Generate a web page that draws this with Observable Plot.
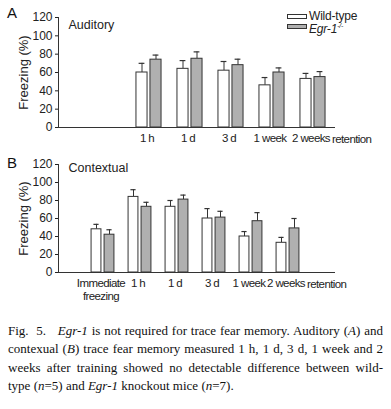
<!DOCTYPE html>
<html>
<head>
<meta charset="utf-8">
<script src="https://cdn.jsdelivr.net/npm/d3@7"></script>
<script src="https://cdn.jsdelivr.net/npm/@observablehq/plot@0.6"></script>
<style>
  html, body { margin: 0; padding: 0; background: #fff; }
  #page { position: relative; width: 391px; height: 409px; overflow: hidden; font-family: "Liberation Sans", Arial, sans-serif; }
  .panel { position: absolute; left: 0; }
  .letter { position: absolute; font-size: 15px; color: #111; }
  .legend { position: absolute; left: 287px; font-size: 12px; color: #222; }
  .legend .row { position: absolute; white-space: nowrap; height: 12px; line-height: 12px; }
  .legend .sw { position: absolute; left: 0; top: 4px; width: 18px; height: 3px; border: 1px solid #333; box-sizing: content-box; }
  .legend .lab { position: absolute; left: 22px; top: 0; letter-spacing: -0.2px; }
  #caption { position: absolute; left: 8px; top: 322px; width: 375px; font-family: "Liberation Serif", "Times New Roman", serif; font-size: 13px; line-height: 18.4px; color: #111; }
  #caption .ln { white-space: nowrap; text-align: justify; text-align-last: justify; }
  #caption .ln.last { text-align-last: left; }
  #page svg g[aria-label="x-axis tick label"] text, #page svg .cond text { letter-spacing: -0.6px; }
</style>
</head>
<body>
<div id="page">
  <div class="letter" style="left:7px; top:4px;">A</div>
  <div class="letter" style="left:7px; top:154px;">B</div>
  <div id="panelA" class="panel" style="top:0px;"></div>
  <div id="panelB" class="panel" style="top:150px;"></div>
  <div class="legend" style="top:0px;">
    <div class="row" style="top:10px;"><div class="sw" style="background:#fff;"></div><span class="lab">Wild-type</span></div>
    <div class="row" style="top:20px;"><div class="sw" style="background:#b0b0b0;"></div><span class="lab"><i>Egr-1</i><sup style="font-size:7px;"><i>-/-</i></sup></span></div>
  </div>
  <div id="caption">
    <div class="ln">Fig.&nbsp; 5.&nbsp;&nbsp; <i>Egr-1</i> is not required for trace fear memory. Auditory (<i>A</i>) and</div>
    <div class="ln">contexual (<i>B</i>) trace fear memory measured 1 h, 1 d, 3 d, 1 week and 2</div>
    <div class="ln">weeks after training showed no detectable difference between wild-</div>
    <div class="ln last">type (<i>n</i>=5) and <i>Egr-1</i> knockout mice (<i>n</i>=7).</div>
  </div>
</div>
<script>
// ---- data ----
const categories = ["Immediate freezing", "1 h", "1 d", "3 d", "1 week", "2 weeks"];
const tickLabels = ["Immediate\nfreezing", "1 h", "1 d", "3 d", "1 week", "2 weeks"];
const yTicks = [0, 20, 40, 60, 80, 100, 120];

const auditoryCats = ["1 h", "1 d", "3 d", "1 week", "2 weeks"];
const auditoryWT = [60, 64, 62, 46, 53];
const auditoryWTErr = [10, 9, 10, 8.5, 6];
const auditoryKO = [74, 75, 68, 60, 55];
const auditoryKOErr = [5, 7.5, 6.5, 5, 6];

const contextualCats = ["Immediate freezing", "1 h", "1 d", "3 d", "1 week", "2 weeks"];
const contextualWT = [48, 84, 73, 60, 40, 33];
const contextualWTErr = [5.5, 8, 7, 11, 5.5, 6];
const contextualKO = [42, 73, 81, 61, 57, 49];
const contextualKOErr = [5.5, 5, 5, 7, 9.5, 11];

const labelOf = new Map(categories.map((c, i) => [c, tickLabels[i]]));

function rowsOf(cats, vals, errs) {
  return cats.map((c, i) => ({cat: c, mean: vals[i], top: vals[i] + errs[i]}));
}

function panel(cfg) {
  const bw = (cfg.range[1] - cfg.range[0]) / categories.length;
  const side = (bw - 2 * cfg.barW - cfg.gap) / 2;
  const wtCenter = side + cfg.barW / 2;
  const koCenter = bw - side - cfg.barW / 2;
  const capW = 6;
  const wt = rowsOf(cfg.cats, cfg.wt, cfg.wtErr);
  const ko = rowsOf(cfg.cats, cfg.ko, cfg.koErr);
  const stroke = "#333";
  return Plot.plot({
    width: 391,
    height: cfg.height,
    marginTop: cfg.marginTop,
    marginBottom: cfg.marginBottom,
    marginLeft: 58,
    marginRight: 57,
    style: {fontFamily: "'Liberation Sans', Arial, sans-serif", fontSize: "12px", color: "#222", background: "transparent"},
    x: {domain: categories, range: cfg.range, padding: 0},
    y: {domain: [0, 120]},
    marks: [
      Plot.ruleX(wt, {x: "cat", y1: "mean", y2: "top", dx: wtCenter - bw / 2, stroke}),
      Plot.tickY(wt, {x: "cat", y: "top", insetLeft: wtCenter - capW / 2, insetRight: bw - wtCenter - capW / 2, stroke, strokeWidth: 1.2}),
      Plot.ruleX(ko, {x: "cat", y1: "mean", y2: "top", dx: koCenter - bw / 2, stroke}),
      Plot.tickY(ko, {x: "cat", y: "top", insetLeft: koCenter - capW / 2, insetRight: bw - koCenter - capW / 2, stroke, strokeWidth: 1.2}),
      Plot.barY(wt, {x: "cat", y: "mean", fill: "#fff", stroke, strokeWidth: 1, insetLeft: side, insetRight: bw - side - cfg.barW}),
      Plot.barY(ko, {x: "cat", y: "mean", fill: "#b0b0b0", stroke, strokeWidth: 1, insetLeft: side + cfg.barW + cfg.gap, insetRight: side}),
      Plot.frame({anchor: "left", stroke}),
      Plot.frame({anchor: "bottom", stroke}),
      Plot.axisY({ticks: yTicks, tickSize: 3, tickPadding: 3, fontSize: 12, label: null}),
      Plot.text(["Freezing (%)"], {frameAnchor: "left", text: d => d, rotate: -90, dx: -35, fontSize: 13, textAnchor: "middle", lineAnchor: "middle"}),
      Plot.axisX({ticks: cfg.tickCats, tickSize: 0, tickPadding: 5, dx: -2, fontSize: 11.5, lineHeight: 1.15, tickFormat: d => labelOf.get(d), label: null}),
      Plot.text([cfg.lastCat], {x: d => d, text: () => "retention", frameAnchor: "bottom", textAnchor: "start", lineAnchor: "top", dx: cfg.retentionDx, dy: 7, fontSize: 11.5, className: "cond"}),
      Plot.text([cfg.title], {frameAnchor: "top-left", text: d => d, textAnchor: "start", lineAnchor: "middle", dx: 10, dy: cfg.titleDy, fontSize: 12.5})
    ]
  });
}

document.getElementById("panelA").append(panel({
  cats: auditoryCats, wt: auditoryWT, wtErr: auditoryWTErr, ko: auditoryKO, koErr: auditoryKOErr,
  height: 150, marginTop: 17, marginBottom: 23, range: [86.5, 333.8], barW: 11.3, gap: 2.7,
  tickCats: auditoryCats, lastCat: "2 weeks", retentionDx: 19, title: "Auditory", titleDy: 7
}));

document.getElementById("panelB").append(panel({
  cats: contextualCats, wt: contextualWT, wtErr: contextualWTErr, ko: contextualKO, koErr: contextualKOErr,
  height: 160, marginTop: 14, marginBottom: 38, range: [81.9, 308.9], barW: 10.7, gap: 2.3,
  tickCats: contextualCats, lastCat: "2 weeks", retentionDx: 19, title: "Contextual", titleDy: 3
}));
</script>
</body>
</html>
